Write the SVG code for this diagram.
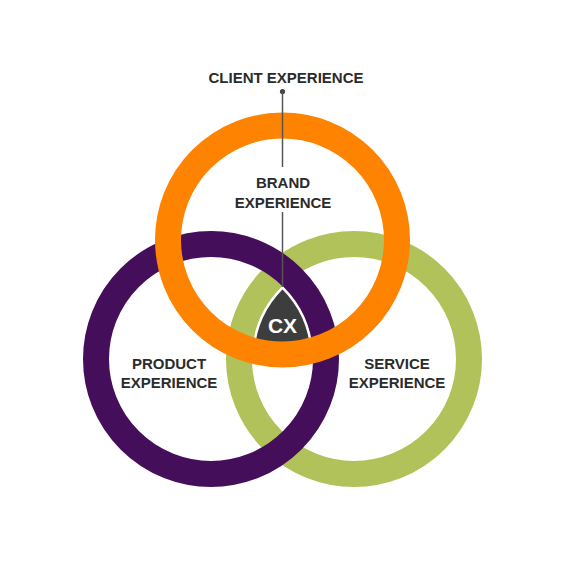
<svg xmlns="http://www.w3.org/2000/svg" width="562" height="562" viewBox="0 0 562 562">
<style>
.ring{fill:none;stroke-width:26}
.lbl{font-family:"Liberation Sans",Arial,sans-serif;font-weight:bold;font-size:15px;fill:#2b2b2b;text-anchor:middle}
.cx{font-family:"Liberation Sans",Arial,sans-serif;font-weight:bold;font-size:21px;fill:#ffffff;text-anchor:middle}
.conn{stroke:#555555;stroke-width:1.5;fill:none}
</style>
<rect width="562" height="562" fill="#ffffff"/>
<g id="service">
<circle class="ring" cx="354" cy="359" r="115" stroke="#b0c259"/>
<text class="lbl" x="397" y="369">SERVICE</text>
<text class="lbl" x="397" y="388">EXPERIENCE</text>
</g>
<g id="product">
<circle class="ring" cx="211" cy="359" r="115" stroke="#450e5a"/>
<text class="lbl" x="169" y="369">PRODUCT</text>
<text class="lbl" x="169" y="388">EXPERIENCE</text>
</g>
<g id="cx-node">
<path d="M282.5 287.7 A101 101 0 0 0 253.2 352 L311.8 352 A101 101 0 0 0 282.5 287.7 Z" fill="#3d3d3d" stroke="#ffffff" stroke-width="2.5" stroke-linejoin="round"/>
</g>
<g id="brand">
<circle class="ring" cx="282.5" cy="240" r="114.5" stroke="#fd8300"/>
<text class="lbl" x="283" y="188">BRAND</text>
<text class="lbl" x="283" y="208">EXPERIENCE</text>
</g>
<g id="cx-label">
<text class="cx" x="282.5" y="333">CX</text>
</g>
<g id="client">
<text class="lbl" x="286" y="83">CLIENT EXPERIENCE</text>
<circle cx="282.5" cy="91.5" r="2.6" fill="#444444"/>
</g>
<g id="connectors">
<line class="conn" x1="282.5" y1="91.5" x2="282.5" y2="167"/>
<line class="conn" x1="282.5" y1="212" x2="282.5" y2="287"/>
</g>
</svg>
